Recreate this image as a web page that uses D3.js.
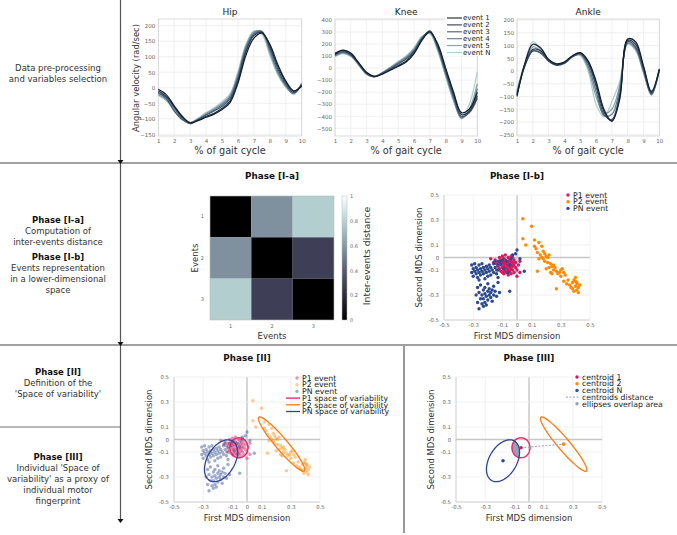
<!DOCTYPE html>
<html>
<head>
<meta charset="utf-8">
<script src="https://cdn.jsdelivr.net/npm/d3@7"></script>
<style>
  body { margin: 0; background: #fff; }
</style>
</head>
<body>
<script>
'use strict';

// ---- data ----
const gaitX = [1, 1.5, 2, 2.5, 3, 3.5, 4, 4.5, 5, 5.5, 6, 6.5, 7, 7.5, 8, 8.5, 9, 9.5, 10];
const gaitTicks = [1, 2, 3, 4, 5, 6, 7, 8, 9, 10];
const eventNames = ['event 1', 'event 2', 'event 3', 'event 4', 'event 5', 'event N'];
const eventColors = ['#131f2d', '#2f3e52', '#46586f', '#5e7789', '#83a2ac', '#aecfcf'];

const hipCurves = [
  [-5, -22, -58, -92, -113, -106, -95, -85, -70, -48, 15, 105, 160, 176, 140, 75, 22, -10, 5],
  [-10, -28, -62, -95, -112, -104, -92, -82, -66, -42, 22, 115, 168, 178, 135, 68, 18, -12, 8],
  [-15, -35, -75, -102, -115, -102, -88, -75, -60, -35, 30, 122, 172, 180, 128, 60, 12, -16, 10],
  [-18, -30, -65, -98, -116, -103, -86, -72, -55, -30, 38, 130, 176, 182, 120, 52, 8, -18, 12],
  [-22, -38, -68, -100, -114, -100, -82, -68, -50, -25, 45, 135, 180, 178, 112, 46, 4, -20, 14],
  [-25, -42, -72, -104, -112, -98, -80, -65, -45, -20, 52, 140, 183, 172, 105, 42, 2, -20, 18]
];
const kneeCurves = [
  [115, 150, 125, 45, -35, -68, -50, -18, 15, 50, 120, 230, 300, 200, 0, -200, -370, -340, -200],
  [125, 145, 115, 40, -40, -70, -45, -12, 22, 60, 130, 240, 305, 185, -15, -215, -385, -360, -230],
  [110, 138, 110, 35, -45, -72, -42, -5, 35, 75, 140, 245, 310, 175, -30, -235, -400, -370, -250],
  [105, 130, 105, 30, -48, -70, -40, 0, 42, 85, 150, 250, 300, 165, -45, -250, -410, -360, -170],
  [100, 125, 100, 28, -50, -68, -38, 5, 50, 95, 160, 258, 290, 150, -60, -265, -420, -340, -130],
  [95, 120, 98, 25, -52, -66, -35, 10, 55, 100, 170, 265, 285, 140, -70, -275, -415, -300, -30]
];
const ankleCurves = [
  [-100, 30, 105, 90, 45, 28, 35, 60, 72, 40, -40, -150, -198, -110, 125, 115, 20, -80, 5],
  [-95, 25, 85, 80, 42, 25, 33, 58, 70, 35, -50, -160, -195, -100, 120, 105, 15, -85, 8],
  [-90, 20, 78, 70, 38, 22, 30, 55, 68, 30, -60, -170, -190, -90, 115, 95, 5, -90, 6],
  [-85, 22, 80, 72, 40, 24, 32, 56, 66, 20, -80, -175, -170, -70, 110, 90, 0, -92, 4],
  [-80, 28, 95, 78, 42, 26, 34, 57, 64, 10, -100, -165, -150, -55, 108, 85, -5, -95, 2],
  [-75, 35, 115, 85, 45, 28, 35, 58, 60, 0, -130, -180, -120, -40, 105, 80, -8, -88, 0]
];
const hipYTicks = [-150, -100, -50, 0, 50, 100, 150, 200];
const kneeYTicks = [-500, -400, -300, -200, -100, 0, 100, 200, 300, 400];
const ankleYTicks = [-250, -200, -150, -100, -50, 0, 50, 100, 150, 200];

// inter-events distance matrix
const eventIds = [1, 2, 3];
const distMatrix = [
  [0, 0.57, 0.78],
  [0.57, 0, 0.28],
  [0.78, 0.28, 0]
];
const colorbarTicks = [0, 0.2, 0.4, 0.6, 0.8, 1];

// MDS points
const groupNames = ['P1 event', 'P2 event', 'PN event'];
const groupColors = ['#d7195e', '#ff8a00', '#2d4b8e'];
const p1Points = [
  [-0.18, -0.01], [-0.16, -0.04], [-0.15, -0.02], [-0.14, -0.05], [-0.13, -0.03], [-0.13, -0.07], [-0.12, 0.00], [-0.12, -0.04],
  [-0.12, -0.09], [-0.11, -0.02], [-0.11, -0.06], [-0.11, -0.11], [-0.10, 0.01], [-0.10, -0.03], [-0.10, -0.05], [-0.10, -0.08],
  [-0.09, -0.01], [-0.09, -0.04], [-0.09, -0.07], [-0.09, -0.10], [-0.09, -0.13], [-0.08, 0.02], [-0.08, -0.02], [-0.08, -0.05],
  [-0.08, -0.08], [-0.08, -0.11], [-0.07, -0.03], [-0.07, -0.06], [-0.07, -0.09], [-0.07, -0.12], [-0.06, 0.00], [-0.06, -0.04],
  [-0.06, -0.07], [-0.06, -0.10], [-0.06, -0.14], [-0.05, -0.02], [-0.05, -0.05], [-0.05, -0.08], [-0.05, -0.11], [-0.04, 0.01],
  [-0.04, -0.03], [-0.04, -0.06], [-0.04, -0.09], [-0.04, -0.13], [-0.03, -0.04], [-0.03, -0.07], [-0.03, -0.10], [-0.02, -0.02],
  [-0.02, -0.06], [-0.02, -0.12], [-0.01, -0.04], [-0.01, -0.08], [0.00, -0.10], [0.00, -0.15], [0.01, -0.06], [0.02, -0.03],
  [0.02, -0.12], [-0.14, -0.10], [-0.03, 0.00], [-0.10, -0.12]
];
const p2Points = [
  [0.04, 0.31], [0.10, 0.25], [0.04, 0.15], [0.06, 0.10], [0.12, 0.09], [0.13, 0.07], [0.15, 0.12], [0.17, 0.09],
  [0.18, 0.05], [0.14, 0.04], [0.16, 0.02], [0.19, 0.03], [0.20, 0.01], [0.21, 0.00], [0.18, -0.01], [0.17, 0.00],
  [0.22, 0.02], [0.15, -0.01], [0.19, -0.03], [0.21, -0.04], [0.23, -0.05], [0.24, -0.07], [0.22, -0.08], [0.20, -0.09],
  [0.25, -0.10], [0.26, -0.08], [0.23, -0.12], [0.27, -0.11], [0.28, -0.13], [0.30, -0.10], [0.31, -0.09], [0.32, -0.12],
  [0.30, -0.15], [0.33, -0.14], [0.14, -0.11], [0.24, -0.13], [0.27, -0.25], [0.32, -0.19], [0.34, -0.21], [0.36, -0.22],
  [0.37, -0.24], [0.38, -0.20], [0.39, -0.18], [0.40, -0.19], [0.41, -0.21], [0.40, -0.23], [0.42, -0.24], [0.41, -0.26],
  [0.39, -0.27], [0.42, -0.28], [0.38, -0.25], [0.40, -0.16], [0.41, -0.20], [0.43, -0.22], [0.12, 0.14], [0.25, -0.06],
  [0.29, -0.12], [0.35, -0.18]
];
const pnPoints = [
  [-0.31, -0.06], [-0.31, -0.12], [-0.30, -0.09], [-0.30, -0.15], [-0.29, -0.05], [-0.29, -0.11], [-0.28, -0.08], [-0.28, -0.13],
  [-0.27, -0.10], [-0.27, -0.16], [-0.26, -0.06], [-0.26, -0.12], [-0.25, -0.09], [-0.25, -0.14], [-0.24, -0.05], [-0.24, -0.11],
  [-0.23, -0.08], [-0.23, -0.13], [-0.22, -0.10], [-0.22, -0.17], [-0.21, -0.07], [-0.21, -0.12], [-0.20, -0.09], [-0.20, -0.15],
  [-0.19, -0.06], [-0.19, -0.11], [-0.18, -0.08], [-0.18, -0.14], [-0.17, -0.10], [-0.16, -0.05], [-0.16, -0.12], [-0.15, -0.08],
  [-0.14, -0.13], [-0.13, -0.06], [-0.13, -0.10], [-0.12, -0.03], [-0.15, -0.03], [-0.26, -0.18],
  [-0.28, -0.30], [-0.27, -0.24], [-0.27, -0.36], [-0.26, -0.28], [-0.26, -0.41], [-0.25, -0.33], [-0.25, -0.22], [-0.24, -0.30],
  [-0.24, -0.37], [-0.23, -0.26], [-0.23, -0.33], [-0.22, -0.29], [-0.22, -0.36], [-0.22, -0.24], [-0.21, -0.31], [-0.21, -0.38],
  [-0.20, -0.27], [-0.20, -0.34], [-0.19, -0.30], [-0.19, -0.25], [-0.18, -0.32], [-0.18, -0.28], [-0.17, -0.35], [-0.17, -0.26],
  [-0.16, -0.30], [-0.16, -0.23], [-0.15, -0.27], [-0.14, -0.31], [-0.13, -0.20], [-0.12, -0.28], [-0.20, -0.21], [-0.23, -0.39],
  [-0.11, -0.05], [-0.10, -0.02], [-0.09, -0.09], [-0.07, -0.03], [-0.06, -0.12], [-0.05, -0.06], [-0.04, -0.01], [-0.03, 0.02],
  [0.00, 0.06], [0.02, -0.01], [0.05, -0.11], [-0.05, -0.27], [-0.13, -0.16], [-0.01, 0.03]
];
const mdsTicks = [-0.5, -0.3, -0.1, 0, 0.1, 0.3, 0.5];

// spaces of variability (centroid + semi-axes, MDS units)
const spaceNames = ['P1 space of variability', 'P2 space of variability', 'PN space of variability'];
const spaceColors = ['#e0226a', '#ff7a10', '#2e4694'];
const centroidX = [-0.055, 0.237, -0.178];
const centroidY = [-0.066, -0.037, -0.17];
const ellipseU = [[0.062, 0.0], [0.156, -0.215], [0.075, 0.16]];
const ellipseV = [[0.0, 0.08], [0.031, 0.031], [0.085, -0.05]];
const centroidNames = ['centroid 1', 'centroid 2', 'centroid N'];

// left column texts
const rowTexts = [
  {y: 68, lines: [['Data pre-processing', false], ['and variables selection', false]]},
  {y: 220, lines: [['Phase [I-a]', true], ['Computation of', false], ['inter-events distance', false]]},
  {y: 257, lines: [['Phase [I-b]', true], ['Events representation', false], ['in a lower-dimensional', false], ['space', false]]},
  {y: 372, lines: [['Phase [II]', true], ['Definition of the', false], ["'Space of variability'", false]]},
  {y: 457, lines: [['Phase [III]', true], ["Individual 'Space of", false], ["variability' as a proxy of", false], ['individual motor', false], ['fingerprint', false]]}
];

const FONT = '"DejaVu Sans", Verdana, sans-serif';
const svg = d3.select('body').append('svg')
  .attr('width', 677).attr('height', 535)
  .style('font-family', FONT);

// ---- frame lines and left column ----
svg.append('line').attr('x1', 0).attr('x2', 677).attr('y1', 163).attr('y2', 163).attr('stroke', '#a0a0a0').attr('stroke-width', 2);
svg.append('line').attr('x1', 0).attr('x2', 677).attr('y1', 345).attr('y2', 345).attr('stroke', '#a0a0a0').attr('stroke-width', 2);
svg.append('line').attr('x1', 0).attr('x2', 120).attr('y1', 427).attr('y2', 427).attr('stroke', '#a0a0a0').attr('stroke-width', 1.5);
svg.append('line').attr('x1', 120.5).attr('x2', 120.5).attr('y1', 0).attr('y2', 522).attr('stroke', '#555').attr('stroke-width', 1.2);
svg.append('line').attr('x1', 404).attr('x2', 404).attr('y1', 346).attr('y2', 533).attr('stroke', '#555').attr('stroke-width', 1.2);
[160, 342, 519].forEach(ay => {
  svg.append('path').attr('d', `M${117.5},${ay} L${123.5},${ay} L${120.5},${ay + 4} Z`).attr('fill', '#111');
});

rowTexts.forEach(block => {
  const t = svg.append('text').attr('text-anchor', 'middle').attr('font-size', 8.5).attr('fill', '#222');
  block.lines.forEach((ln, i) => {
    t.append('tspan').attr('x', 58).attr('y', block.y + i * 11).attr('dy', '0.35em')
      .attr('font-weight', ln[1] ? 'bold' : 'normal').attr('fill', ln[1] ? '#111' : '#333')
      .text(ln[0]);
  });
});

function styleTicks(g, size) {
  g.select('.domain').remove();
  g.selectAll('.tick line').remove();
  g.attr('font-family', FONT).attr('font-size', size);
  g.selectAll('text').attr('fill', '#666');
}

// ---- gait panels ----
const GT = 19, GB = 136;
function drawGaitPanel(p) {
  const x = d3.scaleLinear().domain([1, 10]).range(p.xRange);
  const y = d3.scaleLinear().domain(p.yDomain).range([GB, GT]);
  const g = svg.append('g');
  g.selectAll('.vg').data(gaitTicks).enter().append('line')
    .attr('x1', d => x(d)).attr('x2', d => x(d)).attr('y1', GT).attr('y2', GB)
    .attr('stroke', '#ececec').attr('stroke-width', 0.8);
  g.selectAll('.hg').data(p.yTicks).enter().append('line')
    .attr('x1', p.xRange[0]).attr('x2', p.xRange[1]).attr('y1', d => y(d)).attr('y2', d => y(d))
    .attr('stroke', '#ececec').attr('stroke-width', 0.8);
  g.append('rect').attr('x', p.xRange[0]).attr('y', GT)
    .attr('width', p.xRange[1] - p.xRange[0]).attr('height', GB - GT)
    .attr('fill', 'none').attr('stroke', '#d2d2d2').attr('stroke-width', 0.8);

  g.append('g').attr('transform', `translate(0,${GB})`)
    .call(d3.axisBottom(x).tickValues(gaitTicks).tickSize(0).tickPadding(3))
    .call(a => styleTicks(a, 5.5));
  g.append('g').attr('transform', `translate(${p.xRange[0]},0)`)
    .call(d3.axisLeft(y).tickValues(p.yTicks).tickSize(0).tickPadding(3))
    .call(a => styleTicks(a, 5.5));

  const line = d3.line().x((d, i) => x(gaitX[i])).y(d => y(d)).curve(d3.curveCatmullRom);
  const order = d3.range(p.curves.length).reverse();
  g.selectAll('.curve').data(order).enter().append('path')
    .attr('d', i => line(p.curves[i]))
    .attr('fill', 'none').attr('stroke', i => eventColors[i]).attr('stroke-width', 1.25);

  const mid = (p.xRange[0] + p.xRange[1]) / 2;
  g.append('text').attr('x', mid).attr('y', 15).attr('text-anchor', 'middle')
    .attr('font-size', 9).attr('fill', '#222').text(p.title);
  g.append('text').attr('x', mid).attr('y', 151).attr('dy', '0.35em').attr('text-anchor', 'middle')
    .attr('font-size', 9.7).attr('fill', '#333').text('% of gait cycle');
  return g;
}

drawGaitPanel({title: 'Hip', xRange: [158.3, 301.7], yDomain: [-155.5, 221.6], yTicks: hipYTicks, curves: hipCurves});
const kneeG = drawGaitPanel({title: 'Knee', xRange: [335, 477.3], yDomain: [-564, 408], yTicks: kneeYTicks, curves: kneeCurves});
drawGaitPanel({title: 'Ankle', xRange: [517, 659.3], yDomain: [-255, 204], yTicks: ankleYTicks, curves: ankleCurves});

svg.append('text').attr('transform', 'translate(136,78) rotate(-90)').attr('dy', '0.35em')
  .attr('text-anchor', 'middle').attr('font-size', 8.4).attr('fill', '#333')
  .text('Angular velocity (rad/sec)');

// knee legend
const kl = kneeG.append('g');
kl.append('rect').attr('x', 445).attr('y', 14).attr('width', 34).attr('height', 42).attr('fill', '#fff');
eventNames.forEach((name, i) => {
  const yy = 18 + i * 6.9;
  kl.append('line').attr('x1', 447).attr('x2', 462).attr('y1', yy).attr('y2', yy)
    .attr('stroke', eventColors[i]).attr('stroke-width', 1.1);
  kl.append('text').attr('x', 463).attr('y', yy).attr('dy', '0.35em').attr('font-size', 7)
    .attr('fill', '#222').text(name);
});

// ---- heatmap Phase [I-a] ----
function bone(t) {
  const hr = Math.min(1, t / 0.375);
  const hg = Math.max(0, Math.min(1, (t - 0.375) / 0.375));
  const hb = Math.max(0, Math.min(1, (t - 0.75) / 0.25));
  return d3.rgb(255 * (7 * t + hb) / 8, 255 * (7 * t + hg) / 8, 255 * (7 * t + hr) / 8);
}
const hx = d3.scaleBand().domain(eventIds).range([210, 334]);
const hy = d3.scaleBand().domain(eventIds).range([196, 320]);
const heat = svg.append('g');
distMatrix.forEach((row, r) => {
  row.forEach((v, c) => {
    heat.append('rect').attr('x', hx(eventIds[c])).attr('y', hy(eventIds[r]))
      .attr('width', hx.bandwidth()).attr('height', hy.bandwidth()).attr('fill', bone(v));
  });
});
heat.append('rect').attr('x', 210).attr('y', 196).attr('width', 124).attr('height', 124)
  .attr('fill', 'none').attr('stroke', '#bbb').attr('stroke-width', 0.6);
heat.append('g').attr('transform', 'translate(0,320)')
  .call(d3.axisBottom(hx).tickSize(0).tickPadding(4)).call(a => styleTicks(a, 5));
heat.append('g').attr('transform', 'translate(210,0)')
  .call(d3.axisLeft(hy).tickSize(0).tickPadding(6)).call(a => styleTicks(a, 5));
heat.append('text').attr('x', 272).attr('y', 176).attr('dy', '0.35em').attr('text-anchor', 'middle')
  .attr('font-size', 8.8).attr('font-weight', 'bold').attr('fill', '#111').text('Phase [I-a]');
heat.append('text').attr('x', 272).attr('y', 336).attr('dy', '0.35em').attr('text-anchor', 'middle')
  .attr('font-size', 8.5).attr('fill', '#333').text('Events');
heat.append('text').attr('transform', 'translate(195,258) rotate(-90)').attr('dy', '0.35em')
  .attr('text-anchor', 'middle').attr('font-size', 8.5).attr('fill', '#333').text('Events');

// colorbar
const defs = svg.append('defs');
const grad = defs.append('linearGradient').attr('id', 'boneGrad')
  .attr('x1', 0).attr('y1', 1).attr('x2', 0).attr('y2', 0);
d3.range(0, 1.0001, 0.05).forEach(t => {
  grad.append('stop').attr('offset', t).attr('stop-color', bone(t));
});
const cy = d3.scaleLinear().domain([0, 1]).range([320, 196]);
heat.append('rect').attr('x', 342).attr('y', 196).attr('width', 5).attr('height', 124)
  .attr('fill', 'url(#boneGrad)').attr('stroke', '#bbb').attr('stroke-width', 0.5);
heat.append('g').attr('transform', 'translate(347,0)')
  .call(d3.axisRight(cy).tickValues(colorbarTicks).tickFormat(d => String(d)).tickSize(0).tickPadding(3))
  .call(a => styleTicks(a, 5));
heat.append('text').attr('transform', 'translate(367,256) rotate(-90)').attr('dy', '0.35em')
  .attr('text-anchor', 'middle').attr('font-size', 9.3).attr('fill', '#333').text('Inter-events distance');

// ---- MDS panels ----
function mdsFrame(p) {
  const x = d3.scaleLinear().domain([-0.5, 0.5]).range(p.xRange);
  const y = d3.scaleLinear().domain([-0.5, 0.5]).range(p.yRange);
  const g = svg.append('g');
  g.selectAll('.vg').data(mdsTicks).enter().append('line')
    .attr('x1', d => x(d)).attr('x2', d => x(d)).attr('y1', p.yRange[0]).attr('y2', p.yRange[1])
    .attr('stroke', d => d === 0 ? '#c6c6c6' : '#ededed').attr('stroke-width', d => d === 0 ? 1.4 : 0.8);
  g.selectAll('.hg').data(mdsTicks).enter().append('line')
    .attr('x1', p.xRange[0]).attr('x2', p.xRange[1]).attr('y1', d => y(d)).attr('y2', d => y(d))
    .attr('stroke', d => d === 0 ? '#c6c6c6' : '#ededed').attr('stroke-width', d => d === 0 ? 1.4 : 0.8);
  g.append('line').attr('x1', p.xRange[0]).attr('x2', p.xRange[0]).attr('y1', p.yRange[0]).attr('y2', p.yRange[1])
    .attr('stroke', '#c8c8c8').attr('stroke-width', 0.8);
  g.append('line').attr('x1', p.xRange[0]).attr('x2', p.xRange[1]).attr('y1', p.yRange[0]).attr('y2', p.yRange[0])
    .attr('stroke', '#c8c8c8').attr('stroke-width', 0.8);
  g.append('g').attr('transform', `translate(0,${p.yRange[0]})`)
    .call(d3.axisBottom(x).tickValues(mdsTicks).tickFormat(d => String(d)).tickSize(0).tickPadding(3))
    .call(a => styleTicks(a, 5.3));
  g.append('g').attr('transform', `translate(${p.xRange[0]},0)`)
    .call(d3.axisLeft(y).tickValues(mdsTicks).tickFormat(d => String(d)).tickSize(0).tickPadding(5))
    .call(a => styleTicks(a, 5.3));
  const mx = (p.xRange[0] + p.xRange[1]) / 2;
  const my = (p.yRange[0] + p.yRange[1]) / 2;
  g.append('text').attr('x', mx).attr('y', p.yRange[1] - 19).attr('dy', '0.35em').attr('text-anchor', 'middle')
    .attr('font-size', 8.8).attr('font-weight', 'bold').attr('fill', '#111').text(p.title);
  g.append('text').attr('x', mx).attr('y', p.yRange[0] + 16.5).attr('dy', '0.35em').attr('text-anchor', 'middle')
    .attr('font-size', 8.5).attr('fill', '#333').text('First MDS dimension');
  g.append('text').attr('transform', `translate(${p.xRange[0] - 25},${my}) rotate(-90)`).attr('dy', '0.35em')
    .attr('text-anchor', 'middle').attr('font-size', 8.5).attr('fill', '#333').text('Second MDS dimension');
  return {g, x, y};
}

function drawPoints(f, opacity) {
  [p1Points, p2Points, pnPoints].forEach((pts, k) => {
    f.g.append('g').selectAll('circle').data(pts).enter().append('circle')
      .attr('cx', d => f.x(d[0])).attr('cy', d => f.y(d[1])).attr('r', 1.7)
      .attr('fill', groupColors[k]).attr('fill-opacity', opacity);
  });
}

function ellipsePath(k, f) {
  const pts = d3.range(0, 361, 5).map(a => {
    const t = a * Math.PI / 180;
    return [centroidX[k] + Math.cos(t) * ellipseU[k][0] + Math.sin(t) * ellipseV[k][0],
            centroidY[k] + Math.cos(t) * ellipseU[k][1] + Math.sin(t) * ellipseV[k][1]];
  });
  return d3.line().x(d => f.x(d[0])).y(d => f.y(d[1])).curve(d3.curveLinearClosed)(pts);
}

function legend(g, x0, y0, items) {
  items.forEach((it, i) => {
    const yy = y0 + i * 6.7;
    if (it.type === 'dot') {
      g.append('circle').attr('cx', x0).attr('cy', yy).attr('r', 1.7).attr('fill', it.color)
        .attr('fill-opacity', it.opacity || 1);
    } else {
      g.append('line').attr('x1', x0 - 11).attr('x2', x0 + 3).attr('y1', yy).attr('y2', yy)
        .attr('stroke', it.color).attr('stroke-width', it.width || 1.3)
        .attr('stroke-dasharray', it.dash || null);
    }
    g.append('text').attr('x', x0 + 5).attr('y', yy).attr('dy', '0.35em').attr('font-size', 7.8)
      .attr('fill', '#222').text(it.label);
  });
}

// Phase [I-b]
const fIb = mdsFrame({title: 'Phase [I-b]', xRange: [444, 590], yRange: [320, 195]});
drawPoints(fIb, 1);
legend(fIb.g, 568, 195, groupNames.map((n, k) => ({type: 'dot', color: groupColors[k], label: n})));

// Phase [II]
const fII = mdsFrame({title: 'Phase [II]', xRange: [174, 320], yRange: [502, 377]});
drawPoints(fII, 0.45);
[0, 1, 2].forEach(k => {
  fII.g.append('path').attr('d', ellipsePath(k, fII)).attr('fill', 'none')
    .attr('stroke', spaceColors[k]).attr('stroke-width', 1.3);
});
legend(fII.g, 297, 378,
  groupNames.map((n, k) => ({type: 'dot', color: groupColors[k], opacity: 0.45, label: n}))
    .concat(spaceNames.map((n, k) => ({type: 'line', color: spaceColors[k], label: n}))));

// Phase [III]
const fIII = mdsFrame({title: 'Phase [III]', xRange: [456, 602], yRange: [502, 377]});
defs.append('clipPath').attr('id', 'clipP1').append('path').attr('d', ellipsePath(0, fIII));
fIII.g.append('path').attr('d', ellipsePath(2, fIII)).attr('fill', '#9a9fb6')
  .attr('clip-path', 'url(#clipP1)');
[0, 1, 2].forEach(k => {
  fIII.g.append('path').attr('d', ellipsePath(k, fIII)).attr('fill', 'none')
    .attr('stroke', spaceColors[k]).attr('stroke-width', 1.3);
});
fIII.g.append('line')
  .attr('x1', fIII.x(centroidX[0])).attr('y1', fIII.y(centroidY[0]))
  .attr('x2', fIII.x(centroidX[1])).attr('y2', fIII.y(centroidY[1]))
  .attr('stroke', '#8e92b4').attr('stroke-width', 0.9).attr('stroke-dasharray', '2,1.5');
fIII.g.selectAll('.centroid').data(centroidNames).enter().append('circle')
  .attr('cx', (d, k) => fIII.x(centroidX[k])).attr('cy', (d, k) => fIII.y(centroidY[k]))
  .attr('r', 1.8).attr('fill', (d, k) => groupColors[k]);
legend(fIII.g, 577, 377,
  centroidNames.map((n, k) => ({type: 'dot', color: groupColors[k], label: n}))
    .concat([{type: 'line', color: '#8e92b4', width: 0.9, dash: '2,1.5', label: 'centroids distance'},
             {type: 'dot', color: '#9a9fb6', label: 'ellipses overlap area'}]));
</script>
</body>
</html>
